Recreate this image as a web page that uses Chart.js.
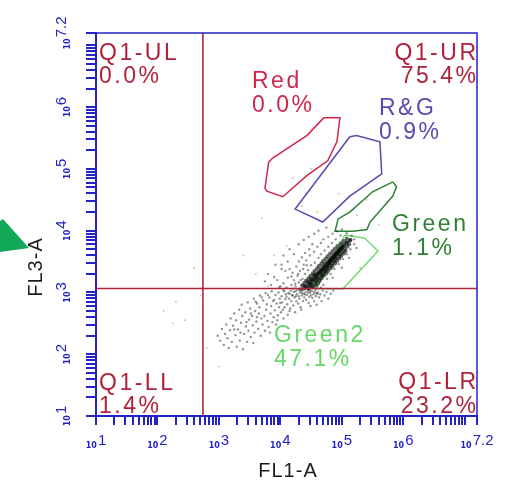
<!DOCTYPE html>
<html>
<head>
<meta charset="utf-8">
<script src="https://cdn.jsdelivr.net/npm/chart.js@4.4.1/dist/chart.umd.min.js"></script>
<style>
  html, body { margin: 0; padding: 0; background: #fff; }
  canvas { display: block; }
</style>
</head>
<body>
<canvas id="plot" width="511" height="483"></canvas>
<script>
// all positions are log10 exponents (FL1-A, FL3-A)
const axisMinExp = 1
const axisMaxExp = 7.2
const decadeExps = [1, 2, 3, 4, 5, 6, 7.2]
const decadeLabels = ['1', '2', '3', '4', '5', '6', '7.2']

const quadrantXExp = 2.74
const quadrantYExp = 3.065
const quadrantNames = ['Q1-UL', 'Q1-UR', 'Q1-LL', 'Q1-LR']
const quadrantPcts = ['0.0%', '75.4%', '1.4%', '23.2%']

const gateNames = ['Red', 'R&G', 'Green', 'Green2']
const gatePcts = ['0.0%', '0.9%', '1.1%', '47.1%']
const redGate = [[4.71, 5.83], [4.97, 5.83], [4.92, 5.44], [4.77, 5.13], [4.43, 4.89], [4.04, 4.55], [3.78, 4.64], [3.75, 4.69], [3.81, 5.11], [3.88, 5.18], [4.43, 5.54]]
const rgGate = [[5.13, 5.52], [5.24, 5.54], [5.62, 5.44], [5.65, 4.92], [5.13, 4.56], [4.69, 4.14], [4.24, 4.35]]
const greenGate = [[5.83, 4.79], [5.89, 4.71], [5.83, 4.56], [5.46, 4.14], [5.41, 4.02], [5.18, 3.99], [4.89, 3.99], [4.94, 4.19], [5.13, 4.30], [5.50, 4.63]]
const green2Gate = [[5.05, 3.93], [5.37, 3.88], [5.59, 3.67], [5.02, 3.06], [4.59, 3.06]]

const coreEvents = [
  [4.33, 3.05], [4.40, 3.07], [4.46, 3.06], [4.52, 3.08],
  [4.36, 3.11], [4.42, 3.09], [4.48, 3.12], [4.53, 3.10], [4.58, 3.11],
  [4.39, 3.15], [4.45, 3.13], [4.51, 3.16], [4.56, 3.14], [4.61, 3.15],
  [4.42, 3.19], [4.48, 3.17], [4.53, 3.20], [4.58, 3.18], [4.64, 3.19],
  [4.46, 3.23], [4.52, 3.21], [4.57, 3.24], [4.62, 3.22], [4.67, 3.23],
  [4.49, 3.27], [4.55, 3.25], [4.60, 3.28], [4.66, 3.26], [4.71, 3.27],
  [4.53, 3.31], [4.58, 3.29], [4.64, 3.32], [4.69, 3.30], [4.75, 3.31],
  [4.56, 3.35], [4.62, 3.33], [4.67, 3.36], [4.73, 3.34], [4.78, 3.35],
  [4.60, 3.39], [4.66, 3.37], [4.71, 3.40], [4.76, 3.38], [4.82, 3.39],
  [4.63, 3.43], [4.69, 3.41], [4.74, 3.44], [4.80, 3.42], [4.85, 3.43],
  [4.67, 3.47], [4.72, 3.45], [4.78, 3.48], [4.83, 3.46], [4.89, 3.47],
  [4.70, 3.51], [4.76, 3.49], [4.81, 3.52], [4.87, 3.50], [4.92, 3.51],
  [4.74, 3.55], [4.80, 3.53], [4.85, 3.56], [4.90, 3.54], [4.96, 3.55],
  [4.77, 3.59], [4.83, 3.57], [4.88, 3.60], [4.94, 3.58], [4.99, 3.59],
  [4.81, 3.63], [4.87, 3.61], [4.92, 3.64], [4.97, 3.62], [5.03, 3.63],
  [4.85, 3.67], [4.91, 3.65], [4.96, 3.68], [5.01, 3.66], [5.06, 3.67],
  [4.89, 3.71], [4.95, 3.69], [5.00, 3.72], [5.05, 3.70],
  [4.93, 3.75], [4.99, 3.73], [5.04, 3.76], [5.09, 3.74],
  [4.98, 3.79], [5.03, 3.77], [5.08, 3.80], [5.12, 3.78],
  [5.03, 3.83], [5.08, 3.81], [5.13, 3.84],
  [5.08, 3.87], [5.14, 3.85],
  [4.61, 3.30], [4.66, 3.34], [4.70, 3.38], [4.74, 3.42], [4.77, 3.46], [4.81, 3.50], [4.84, 3.54], [4.88, 3.58], [4.91, 3.62], [4.95, 3.66],
  [4.98, 3.70], [4.67, 3.29], [4.72, 3.35], [4.76, 3.41], [4.80, 3.47], [4.85, 3.52], [4.89, 3.57], [4.93, 3.63], [4.97, 3.68], [5.01, 3.73],
  [4.40, 3.10], [4.45, 3.17], [4.50, 3.22], [4.55, 3.28], [4.50, 3.13], [4.57, 3.20], [4.47, 3.08], [4.60, 3.24]
]
const haloEvents = [
  [4.10, 3.08], [4.18, 3.12], [4.05, 3.15], [4.22, 3.20], [4.12, 3.24], [4.28, 3.27], [4.20, 3.32], [4.15, 3.38], [4.32, 3.35], [4.26, 3.42],
  [4.38, 3.45], [4.30, 3.50], [4.42, 3.52], [4.35, 3.57], [4.48, 3.60], [4.40, 3.64], [4.55, 3.66], [4.47, 3.70], [4.60, 3.74], [4.52, 3.78],
  [4.66, 3.80], [4.70, 3.86], [4.78, 3.90], [4.85, 3.95], [4.92, 3.99], [5.00, 4.02], [5.08, 3.96], [5.16, 3.92], [5.20, 3.86], [4.25, 3.10],
  [4.30, 3.16], [4.36, 3.22], [4.40, 3.30], [4.45, 3.36], [4.50, 3.44], [4.56, 3.48], [4.62, 3.56], [4.66, 3.62], [4.72, 3.68], [4.78, 3.74],
  [4.84, 3.80], [4.90, 3.86], [4.98, 3.92], [4.00, 3.10], [3.95, 3.20], [4.08, 3.35], [4.02, 3.45],
  [4.70, 3.12], [4.76, 3.22], [4.82, 3.30], [4.88, 3.38], [4.95, 3.46], [5.02, 3.54], [5.08, 3.62], [5.14, 3.70], [5.20, 3.78], [4.66, 3.08],
  [4.85, 3.24], [5.00, 3.40], [5.12, 3.56], [5.24, 3.72],
  [3.85, 3.12], [3.90, 3.25], [3.98, 3.08], [4.02, 3.38], [3.92, 3.45], [4.12, 3.50], [4.05, 3.60], [4.22, 3.62], [4.15, 3.70], [4.30, 3.78],
  [4.38, 3.85], [4.46, 3.90], [4.55, 3.95], [4.62, 4.00], [4.75, 4.05], [3.80, 3.30], [3.75, 3.18],
  [4.24, 3.14], [4.33, 3.20], [4.29, 3.30], [4.37, 3.38], [4.18, 3.26], [4.34, 3.12], [4.43, 3.44], [4.21, 3.06]
]
const tailEvents = [
  [3.02, 2.22], [3.05, 2.41], [3.08, 2.15], [3.10, 2.33], [2.98, 2.30],
  [3.12, 2.48], [3.14, 2.26], [3.16, 2.10], [3.18, 2.39], [3.19, 2.58],
  [3.21, 2.20], [3.23, 2.46], [3.25, 2.66], [3.27, 2.31], [3.29, 2.12], [3.28, 2.55],
  [3.31, 2.40], [3.33, 2.72], [3.34, 2.22], [3.36, 2.51], [3.38, 2.62], [3.39, 2.08], [3.37, 2.80],
  [3.41, 2.33], [3.43, 2.68], [3.44, 2.45], [3.46, 2.20], [3.47, 2.84], [3.49, 2.56], [3.48, 2.38],
  [3.51, 2.74], [3.52, 2.28], [3.54, 2.62], [3.55, 2.47], [3.57, 2.90], [3.58, 2.35], [3.59, 2.70], [3.56, 2.18],
  [3.61, 2.53], [3.62, 2.82], [3.64, 2.41], [3.65, 2.66], [3.67, 2.95], [3.68, 2.30], [3.69, 2.58], [3.66, 2.76],
  [3.71, 2.48], [3.72, 2.87], [3.74, 2.62], [3.75, 2.38], [3.76, 2.99], [3.77, 2.72], [3.79, 2.54], [3.78, 2.81],
  [3.81, 2.44], [3.82, 2.92], [3.84, 2.66], [3.85, 2.78], [3.86, 3.02], [3.87, 2.52], [3.88, 2.86], [3.89, 2.60], [3.83, 2.35],
  [3.91, 2.71], [3.92, 2.96], [3.93, 2.48], [3.94, 2.82], [3.96, 2.63], [3.97, 3.00], [3.98, 2.76], [3.99, 2.90], [3.95, 2.55],
  [4.01, 2.68], [4.02, 2.94], [4.03, 2.84], [4.05, 2.58], [4.06, 3.02], [4.07, 2.76], [4.08, 2.89], [4.09, 2.97], [4.04, 2.72],
  [4.11, 2.81], [4.12, 2.64], [4.13, 2.99], [4.14, 2.90], [4.16, 2.74], [4.17, 3.03], [4.18, 2.86], [4.19, 2.95], [4.15, 2.70],
  [4.21, 2.79], [4.22, 3.01], [4.23, 2.92], [4.24, 2.68], [4.26, 2.86], [4.27, 2.97], [4.28, 3.04], [4.29, 2.82], [4.25, 2.94],
  [4.31, 2.90], [4.32, 3.00], [4.33, 2.76], [4.35, 2.95], [4.36, 3.03], [4.37, 2.86], [4.38, 2.98], [4.39, 2.92], [4.34, 2.72],
  [4.41, 3.01], [4.42, 2.88], [4.43, 2.96], [4.45, 3.04], [4.46, 2.83], [4.47, 2.93], [4.48, 2.99], [4.49, 2.78],
  [4.51, 3.02], [4.52, 2.91], [4.54, 2.97], [4.55, 2.86], [4.57, 3.04], [4.58, 2.94], [4.59, 2.80],
  [4.61, 3.00], [4.63, 2.92], [4.65, 2.97], [4.67, 2.86], [4.69, 3.03], [4.72, 2.95], [4.75, 3.01], [4.78, 2.90], [4.82, 2.98], [4.86, 3.03],
  [4.05, 3.04], [4.15, 2.98], [4.25, 3.02], [4.35, 2.99], [4.45, 3.00], [4.55, 3.01], [4.20, 2.96], [4.30, 2.94], [4.40, 2.97], [4.50, 2.95],
  [4.60, 2.98], [4.10, 2.93], [4.38, 3.05], [4.48, 3.03], [4.58, 2.99],
  [3.70, 2.92], [3.80, 2.96], [3.90, 2.88], [4.00, 2.83], [3.60, 2.85], [3.52, 2.66], [3.45, 2.52], [3.35, 2.35], [3.25, 2.40], [3.62, 2.60]
]
const strayEvents = [
  [2.10, 2.70], [2.30, 2.85], [2.45, 2.55], [2.60, 3.40], [2.25, 2.50], [3.40, 3.60], [3.70, 4.20], [3.90, 3.60], [4.10, 3.75], [4.35, 4.40],
  [4.60, 4.30], [4.95, 4.60], [5.25, 4.25], [4.20, 4.85], [5.40, 4.50], [3.60, 3.30], [3.00, 1.80], [2.80, 2.10], [4.80, 2.40], [5.30, 3.40],
  [3.80, 3.10], [2.70, 2.95], [5.60, 4.10], [4.50, 5.00]
]

const axisBlue = '#2323c4'
const quadRed = '#b0223a'
const gateColors = ['#d0264c', '#5848b0', '#2f7f35', '#64d864']

const toPoint = ([a, b]) => ({ x: Math.pow(10, a), y: Math.pow(10, b) })
const closed = poly => [...poly, poly[0]].map(toPoint)

// minor + decade tick positions
const tickValues = []
for (let d = 1; d <= 7; d++) {
  for (let m = 1; m <= 9; m++) {
    const v = m * Math.pow(10, d)
    if (v <= Math.pow(10, axisMaxExp)) tickValues.push(v)
  }
}
tickValues.push(Math.pow(10, axisMaxExp))

const lineSet = (data, color, width) => ({
  data, showLine: true, borderColor: color, borderWidth: width, pointRadius: 0, fill: false, tension: 0
})

const datasets = [
  lineSet([toPoint([axisMinExp, quadrantYExp]), toPoint([axisMaxExp, quadrantYExp])], quadRed, 1.6),
  lineSet([toPoint([quadrantXExp, axisMinExp]), toPoint([quadrantXExp, axisMaxExp])], quadRed, 1.6),
  { data: coreEvents.map(toPoint), pointRadius: 2.1, pointBorderWidth: 0, backgroundColor: 'rgba(0,8,0,0.6)' },
  { data: haloEvents.map(toPoint), pointRadius: 1.2, pointBorderWidth: 0, backgroundColor: 'rgba(50,50,50,0.5)' },
  { data: tailEvents.map(toPoint), pointRadius: 1.2, pointBorderWidth: 0, backgroundColor: 'rgba(60,60,60,0.55)' },
  { data: strayEvents.map(toPoint), pointRadius: 0.9, pointBorderWidth: 0, backgroundColor: 'rgba(90,90,90,0.4)' },
  lineSet(closed(redGate), gateColors[0], 1.5),
  lineSet(closed(rgGate), gateColors[1], 1.5),
  lineSet(closed(greenGate), gateColors[2], 1.5),
  lineSet(closed(green2Gate), gateColors[3], 1.3)
]

function drawLabelPair(ctx, x, y1, y2, lines, color, align) {
  ctx.font = '23px "Liberation Sans", Arial, sans-serif'
  ctx.fillStyle = color
  ctx.letterSpacing = '2.5px'
  ctx.textAlign = align
  ctx.textBaseline = 'alphabetic'
  const shift = align === 'right' ? 2.5 : 0
  ctx.fillText(lines[0], x + shift, y1)
  ctx.fillText(lines[1], x + shift, y2)
  ctx.letterSpacing = '0px'
}

function drawPowerLabel(ctx, center, baseSmall, baseExp, exp) {
  ctx.textAlign = 'left'
  ctx.font = 'bold 8px "DejaVu Sans", sans-serif'
  const wSmall = ctx.measureText('10').width
  ctx.font = '15px "Liberation Sans", Arial, sans-serif'
  const wExp = ctx.measureText(exp).width
  const start = center - (wSmall + 1 + wExp) / 2
  ctx.font = 'bold 8px "DejaVu Sans", sans-serif'
  ctx.fillText('10', start, baseSmall)
  ctx.font = '15px "Liberation Sans", Arial, sans-serif'
  ctx.fillText(exp, start + wSmall + 1, baseExp)
}

const decorPlugin = {
  id: 'decor',
  afterDraw(chart) {
    const { ctx, chartArea: a, scales } = chart
    ctx.save()
    // frame top / right
    ctx.strokeStyle = axisBlue
    ctx.lineWidth = 1.5
    ctx.beginPath()
    ctx.moveTo(a.left, a.top)
    ctx.lineTo(a.right, a.top)
    ctx.lineTo(a.right, a.bottom)
    ctx.stroke()

    // tick marks, placed by the scales
    ctx.fillStyle = axisBlue
    tickValues.forEach(v => {
      const px = Math.round(scales.x.getPixelForValue(v))
      ctx.fillRect(px - 1, a.bottom, 2, 9)
      const py = Math.round(scales.y.getPixelForValue(v))
      ctx.fillRect(a.left - 10, py - 1, 10, 2)
    })

    // decade labels
    decadeExps.forEach((e, i) => {
      const px = scales.x.getPixelForValue(Math.pow(10, e))
      drawPowerLabel(ctx, px, 448, 445, decadeLabels[i])
    })
    decadeExps.forEach((e, i) => {
      const py = scales.y.getPixelForValue(Math.pow(10, e))
      ctx.save()
      ctx.translate(0, py)
      ctx.rotate(-Math.PI / 2)
      drawPowerLabel(ctx, 0, 70, 66, decadeLabels[i])
      ctx.restore()
    })

    // axis titles
    ctx.fillStyle = '#1c1c1c'
    ctx.font = '20px "Liberation Sans", Arial, sans-serif'
    ctx.letterSpacing = '1px'
    ctx.textAlign = 'center'
    ctx.fillText('FL1-A', 288, 477)
    ctx.save()
    ctx.translate(42, 267)
    ctx.rotate(-Math.PI / 2)
    ctx.fillText('FL3-A', 0, 0)
    ctx.restore()
    ctx.letterSpacing = '0px'

    // quadrant and gate labels
    drawLabelPair(ctx, 99, 60, 83, [quadrantNames[0], quadrantPcts[0]], quadRed, 'left')
    drawLabelPair(ctx, 476, 60, 83, [quadrantNames[1], quadrantPcts[1]], quadRed, 'right')
    drawLabelPair(ctx, 99, 390, 413, [quadrantNames[2], quadrantPcts[2]], quadRed, 'left')
    drawLabelPair(ctx, 476, 389, 413, [quadrantNames[3], quadrantPcts[3]], quadRed, 'right')
    drawLabelPair(ctx, 252, 88, 112, [gateNames[0], gatePcts[0]], gateColors[0], 'left')
    drawLabelPair(ctx, 379, 115, 139, [gateNames[1], gatePcts[1]], gateColors[1], 'left')
    drawLabelPair(ctx, 392, 231, 255, [gateNames[2], gatePcts[2]], gateColors[2], 'left')
    drawLabelPair(ctx, 274, 342, 366, [gateNames[3], gatePcts[3]], gateColors[3], 'left')

    // green pointer on the left edge
    ctx.fillStyle = '#12a85a'
    ctx.beginPath()
    ctx.moveTo(0, 221)
    ctx.lineTo(3, 219)
    ctx.lineTo(29, 248)
    ctx.lineTo(0, 252)
    ctx.closePath()
    ctx.fill()
    ctx.restore()
  }
}

const axisOpts = (fit) => ({
  type: 'logarithmic',
  min: Math.pow(10, axisMinExp),
  max: Math.pow(10, axisMaxExp),
  afterBuildTicks: s => { s.ticks = tickValues.map(v => ({ value: v })) },
  afterFit: fit,
  ticks: { display: false, autoSkip: false },
  grid: { display: false },
  border: { display: true, color: axisBlue, width: 2 }
})

new Chart(document.getElementById('plot'), {
  type: 'scatter',
  data: { datasets },
  options: {
    responsive: false,
    animation: false,
    layout: { padding: { top: 33, right: 34, left: 0, bottom: 0 } },
    plugins: { legend: { display: false }, tooltip: { enabled: false } },
    scales: {
      x: axisOpts(s => { s.height = 67 }),
      y: axisOpts(s => { s.width = 96 })
    }
  },
  plugins: [decorPlugin]
})
</script>
</body>
</html>
